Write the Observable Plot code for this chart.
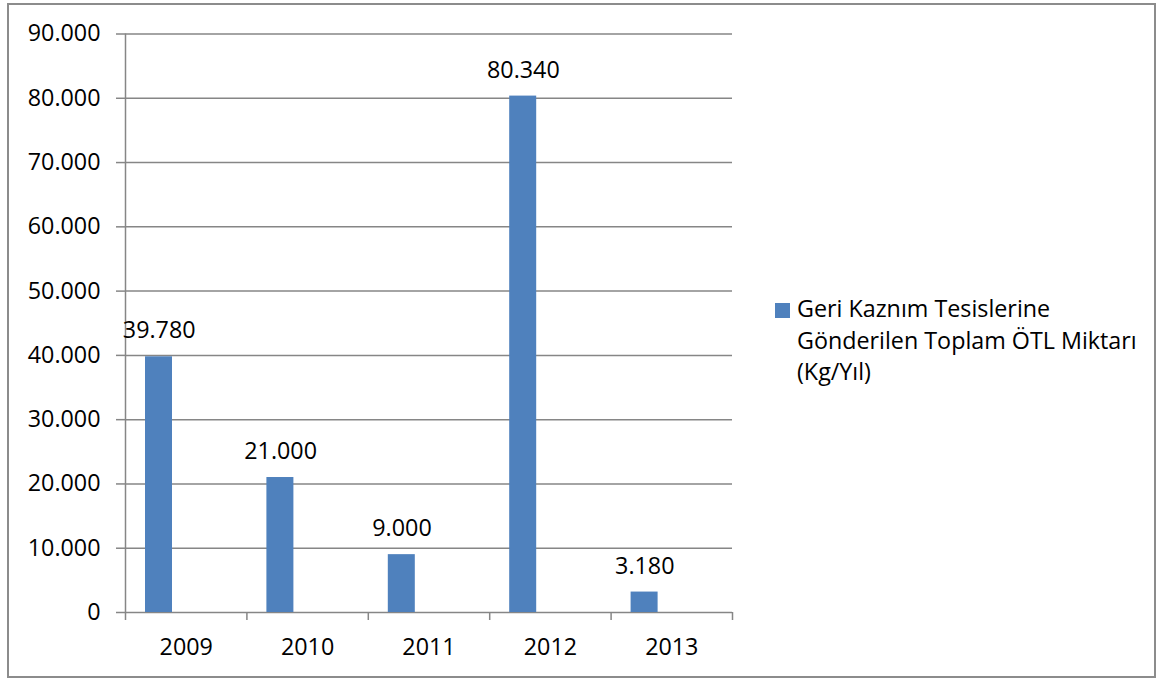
<!DOCTYPE html>
<html>
<head>
<meta charset="utf-8">
<script src="https://cdn.jsdelivr.net/npm/d3@7"></script>
<script src="https://cdn.jsdelivr.net/npm/@observablehq/plot@0.6"></script>
<style>
  body { margin: 0; background: #fff; }
  #wrap { position: relative; width: 1163px; height: 680px; font-family: "Open Sans", sans-serif; }
  #frame { position: absolute; left: 7px; top: 3px; width: 1149px; height: 675px; border: 2px solid #8c8c8c; box-sizing: border-box; }
  #chart { position: absolute; left: 0; top: 0; }
  #legend { position: absolute; left: 775px; top: 293px; font-size: 23.3px; line-height: 31.5px; color: #000; }
  #legend .sw { position: absolute; left: 0; top: 10px; width: 15px; height: 15px; background: #4F81BD; }
  #legend .tx { margin-left: 22px; }
</style>
</head>
<body>
<div id="wrap">
  <div id="frame"></div>
  <div id="chart"></div>
  <div id="legend"></div>
</div>
<script>
const years = ["2009", "2010", "2011", "2012", "2013"];
const values = [39780, 21000, 9000, 80340, 3180];
const yTicks = [0, 10000, 20000, 30000, 40000, 50000, 60000, 70000, 80000, 90000];
const seriesName = ["Geri Kazn\u0131m Tesislerine", "G\u00f6nderilen Toplam \u00d6TL Miktar\u0131", "(Kg/Y\u0131l)"];
const barColor = "#4F81BD";

const data = years.map((y, i) => ({i, year: y, value: values[i]}));
const fmt = d3.formatLocale({thousands: ".", grouping: [3], decimal: ",", currency: ["", ""]}).format(",");
const gridColor = "#868686";
const fontSize = 23.3;

const plot = Plot.plot({
  width: 1163,
  height: 680,
  marginLeft: 125,
  marginRight: 431,
  marginTop: 33.5,
  marginBottom: 68,
  style: {fontFamily: "'Open Sans', sans-serif", fontSize: fontSize + "px", color: "#000", background: "transparent"},
  x: {type: "linear", domain: [0, years.length], range: [125, 732], axis: null},
  y: {domain: [0, 90000], axis: null},
  marks: [
    Plot.gridY(yTicks, {stroke: gridColor, strokeOpacity: 1, strokeWidth: 1.5}),
    Plot.ruleX([0], {stroke: gridColor, strokeWidth: 1.5}),
    Plot.rectY(data, {x1: d => d.i, x2: d => d.i + 1, y: "value", fill: barColor, insetLeft: 20, insetRight: 74.4}),
    Plot.text(data, {x: d => d.i + 0.5, y: "value", text: d => fmt(d.value), dx: -27, dy: -26, fontSize: fontSize, fill: "#000"}),
    Plot.axisY({ticks: yTicks, tickFormat: fmt, tickSize: 9, tickPadding: 16, stroke: gridColor, strokeWidth: 1.5, strokeOpacity: 1, fontSize: fontSize, fill: "#000", label: null}),
    Plot.axisX({ticks: d3.range(0, years.length + 1), tickFormat: () => "", tickSize: 8, stroke: gridColor, strokeWidth: 1.5, strokeOpacity: 1, label: null}),
    Plot.axisX({ticks: years.map((y, i) => i + 0.5), tickFormat: v => years[Math.floor(v)], tickSize: 0, tickPadding: 26, fontSize: fontSize, fill: "#000", label: null})
  ]
});
document.getElementById("chart").appendChild(plot);

const legend = document.getElementById("legend");
legend.innerHTML = '<div class="sw"></div>' + seriesName.map(s => '<div class="tx">' + s + '</div>').join("");
</script>
</body>
</html>
